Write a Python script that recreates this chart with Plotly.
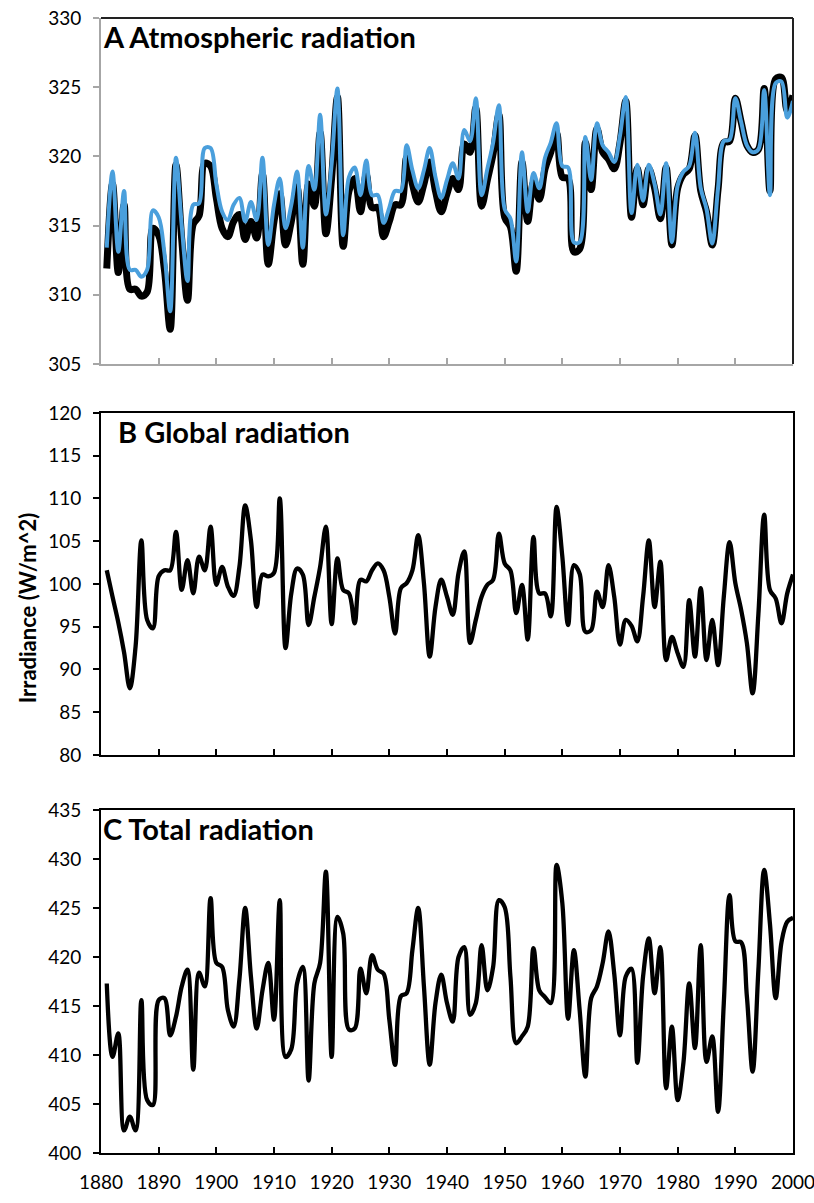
import plotly.graph_objects as go

years = list(range(1881, 2001))

# Panel A: atmospheric radiation (black = series 1, blue = series 2)
atm_black = [
    311.9, 318.0, 311.6, 316.5, 310.4, 310.4, 309.9, 310.2, 314.8, 314.3,
    311.8, 307.5, 319.4, 314.0, 309.6, 315.1, 315.7, 319.5, 319.3, 317.0,
    314.8, 314.2, 315.3, 315.8, 314.0, 315.3, 314.1, 318.7, 312.2, 315.3,
    317.3, 313.6, 315.3, 317.8, 312.2, 318.0, 316.4, 321.7, 314.4, 318.5,
    324.3, 313.5, 317.5, 318.4, 316.0, 318.7, 316.3, 316.3, 314.2, 315.3,
    316.5, 316.5, 319.9, 318.0, 316.7, 318.0, 319.6, 317.5, 316.0, 317.3,
    318.4, 317.6, 320.9, 320.3, 323.5, 316.4, 318.3, 320.2, 323.0, 315.6,
    314.9, 311.7, 319.6, 315.3, 318.1, 316.9, 319.1, 320.3, 321.7, 318.5,
    318.4, 313.1, 313.3, 321.0, 317.6, 322.0, 320.3, 319.8, 319.1, 321.0,
    324.0, 315.6, 319.1, 316.5, 319.1, 317.7, 315.5, 319.2, 313.6, 317.7,
    318.7, 319.1, 321.5, 317.5, 316.0, 313.6, 317.6, 321.0, 321.1, 324.2,
    322.5, 320.8, 320.3, 320.5, 324.9, 317.5, 325.6, 325.7, 323.3, 324.4,
]
atm_blue = [
    313.4, 318.9, 313.1, 317.5, 311.8, 311.8, 311.3, 311.8, 316.1, 315.6,
    313.0, 308.8, 319.9, 315.0, 311.0, 316.5, 316.6, 320.6, 320.6, 318.0,
    316.0, 315.4, 316.5, 317.0, 315.3, 316.7, 315.4, 319.9, 313.6, 316.5,
    318.4, 314.8, 316.5, 318.9, 313.4, 319.3, 317.6, 323.0, 315.8, 319.5,
    324.9, 314.3, 318.5, 319.2, 317.2, 319.7, 317.2, 317.2, 315.2, 316.3,
    317.5, 317.5, 320.8, 319.0, 317.7, 319.0, 320.6, 318.5, 317.0, 318.3,
    319.5, 318.4, 321.9, 321.1, 324.2, 317.2, 319.1, 321.0, 323.7, 316.2,
    315.5, 312.4, 320.3, 316.0, 318.8, 317.7, 319.9, 321.0, 322.4, 319.3,
    319.2, 313.8, 313.8, 321.4, 318.3, 322.4, 320.8, 320.3, 319.6, 321.5,
    324.3, 315.9, 319.4, 316.8, 319.4, 318.0, 315.8, 319.5, 313.8, 317.9,
    318.9, 319.3, 321.7, 317.7, 316.2, 313.7, 317.7, 321.1, 321.2, 324.2,
    322.5, 320.8, 320.3, 320.5, 324.8, 317.2, 325.3, 325.4, 322.8, 324.0,
]

# Panel B: global radiation
global_rad = [
    101.6, 98.5, 95.5, 92.0, 87.8, 92.7, 105.1, 95.8, 94.8, 100.9,
    101.6, 101.6, 106.1, 99.3, 102.8, 98.9, 103.2, 101.6, 106.7, 99.9,
    102.0, 99.7, 98.6, 102.0, 109.2, 105.1, 97.3, 101.1, 100.9, 101.3,
    110.0, 92.5, 98.9, 101.8, 101.1, 95.2, 98.5, 102.0, 106.7, 95.3,
    103.0, 99.3, 98.9, 95.4, 100.5, 100.3, 101.6, 102.4, 101.6, 98.5,
    94.2, 99.5, 100.1, 101.6, 105.7, 100.1, 91.5, 97.3, 100.5, 98.5,
    96.4, 101.3, 103.8, 93.1, 95.8, 98.5, 99.9, 100.5, 105.9, 102.4,
    101.6, 96.6, 99.9, 93.5, 105.5, 98.9, 98.9, 96.2, 109.0, 103.2,
    95.2, 102.2, 101.2, 94.4, 94.6, 99.1, 97.3, 102.2, 98.5, 92.9,
    95.8, 95.1, 93.3, 98.5, 105.1, 97.3, 102.6, 91.1, 93.8, 91.9,
    90.3, 98.1, 91.5, 99.5, 91.1, 95.8, 90.5, 98.5, 104.9, 100.1,
    97.0, 93.1, 87.2, 96.5, 108.1, 99.3, 98.3, 95.4, 98.9, 101.1,
]

# Panel C: total radiation
total_rad = [
    417.3, 409.8, 412.2, 402.3, 403.7, 402.3, 415.6, 405.4, 404.9, 415.6,
    415.8, 412.0, 413.9, 417.0, 418.7, 408.5, 418.4, 417.0, 426.0, 419.4,
    419.0, 414.6, 412.9, 417.7, 425.0, 418.0, 412.7, 416.6, 419.4, 413.6,
    425.8, 409.8, 410.6, 417.3, 419.0, 407.4, 417.3, 419.4, 428.7, 409.8,
    424.1, 422.4, 412.6, 412.7, 418.8, 416.3, 420.2, 418.7, 418.3, 413.6,
    409.0, 416.0, 416.3, 420.7, 425.0, 417.0, 409.0, 415.3, 418.2, 415.3,
    413.4, 420.0, 421.0, 414.1, 415.3, 421.2, 416.6, 419.0, 425.8, 425.1,
    418.0, 411.2, 411.9, 412.9, 420.9, 416.6, 415.9, 415.3, 429.4, 425.5,
    413.7, 420.7, 414.6, 407.8, 415.8, 417.0, 419.4, 422.6, 418.3, 412.0,
    418.0, 418.8, 409.2, 418.0, 421.9, 416.3, 421.0, 406.6, 412.9, 405.4,
    409.2, 417.3, 410.7, 421.2, 409.3, 411.9, 404.2, 415.3, 426.3, 421.6,
    421.5, 416.0, 408.3, 418.7, 428.9, 423.4, 415.8, 421.5, 423.6, 424.0,
]

x_ticks = list(range(1880, 2001, 10))
yticks_a = list(range(305, 331, 5))
yticks_b = list(range(80, 121, 5))
yticks_c = list(range(400, 436, 5))

panel_titles = ["A Atmospheric radiation", "B Global radiation", "C Total radiation"]
y_title = "Irradiance (W/m^2)"

FONT = "Lato"
GRAY = "#a6a6a6"
BLACK = "#000000"

fig = go.Figure()
spl = dict(shape="spline", smoothing=1.0)
fig.add_trace(go.Scatter(x=years, y=atm_black, mode="lines", xaxis="x", yaxis="y",
                         line=dict(color=BLACK, width=7, **spl), showlegend=False))
fig.add_trace(go.Scatter(x=years, y=atm_blue, mode="lines", xaxis="x", yaxis="y",
                         line=dict(color="#4a9fdc", width=4, **spl), showlegend=False))
fig.add_trace(go.Scatter(x=years, y=global_rad, mode="lines", xaxis="x2", yaxis="y2",
                         line=dict(color=BLACK, width=4.3, **spl), showlegend=False))
fig.add_trace(go.Scatter(x=years, y=total_rad, mode="lines", xaxis="x3", yaxis="y3",
                         line=dict(color=BLACK, width=4.3, **spl), showlegend=False))

tickfont = dict(family=FONT, size=19, color=BLACK)

def xax(anchor, color, labels, mirror):
    return dict(anchor=anchor, domain=[0, 1], range=[1880, 2000], tickmode="array",
                tickvals=x_ticks, ticktext=[str(v) for v in x_ticks],
                showticklabels=labels, ticks="inside", ticklen=6, tickwidth=1.5, tickcolor=color,
                showline=True, linecolor=color, linewidth=2, mirror=mirror,
                showgrid=False, zeroline=False, tickfont=tickfont, ticklabelstandoff=11,
                ticklabeloverflow="allow", automargin=False)

def yax(anchor, dom, rng, vals, color, mirror):
    return dict(anchor=anchor, domain=dom, range=rng, tickmode="array", tickvals=vals,
                ticktext=[str(v) for v in vals], ticks="outside", ticklen=6, tickwidth=1.5,
                tickcolor=color, showline=True, linecolor=color, linewidth=2, mirror=mirror,
                showgrid=False, zeroline=False, tickfont=tickfont, ticklabelstandoff=8,
                automargin=False)

domA = [0.6952, 1.0]
domB = [0.3507, 0.652]
domC = [0.0, 0.3022]

fig.update_layout(
    width=814, height=1203,
    margin=dict(l=101, r=21, t=18, b=50, autoexpand=False),
    paper_bgcolor="white", plot_bgcolor="white",
    xaxis=xax("y", GRAY, False, False),
    yaxis=yax("x", domA, [305, 330], yticks_a, GRAY, False),
    xaxis2=xax("y2", BLACK, False, True),
    yaxis2=yax("x2", domB, [80, 120], yticks_b, BLACK, True),
    xaxis3=xax("y3", BLACK, True, True),
    yaxis3=yax("x3", domC, [400, 435], yticks_c, BLACK, True),
    showlegend=False,
)

# top and right border of panel A (darker than its left/bottom axes)
fig.add_shape(type="line", xref="x domain", yref="y domain", x0=0, x1=1, y0=1, y1=1,
              line=dict(color="#222222", width=2))
fig.add_shape(type="line", xref="x domain", yref="y domain", x0=1, x1=1, y0=0, y1=1,
              line=dict(color="#222222", width=2))

title_font = dict(family=FONT, size=29, color=BLACK, weight="bold")
title_x = [0.0, 0.022, 0.0]
for t, xr, yr, tx in zip(panel_titles, ["x domain", "x2 domain", "x3 domain"],
                         ["y domain", "y2 domain", "y3 domain"], title_x):
    fig.add_annotation(text=t, xref=xr, yref=yr, x=tx, y=1.0, yshift=1,
                       xanchor="left", yanchor="top", showarrow=False, font=title_font)

fig.add_annotation(text=y_title, xref="paper", yref="y2 domain", x=-0.105, y=0.43,
                   xanchor="center", yanchor="middle", textangle=-90, showarrow=False,
                   font=dict(family=FONT, size=22, color=BLACK, weight="bold"))

fig.write_html("out.html")
